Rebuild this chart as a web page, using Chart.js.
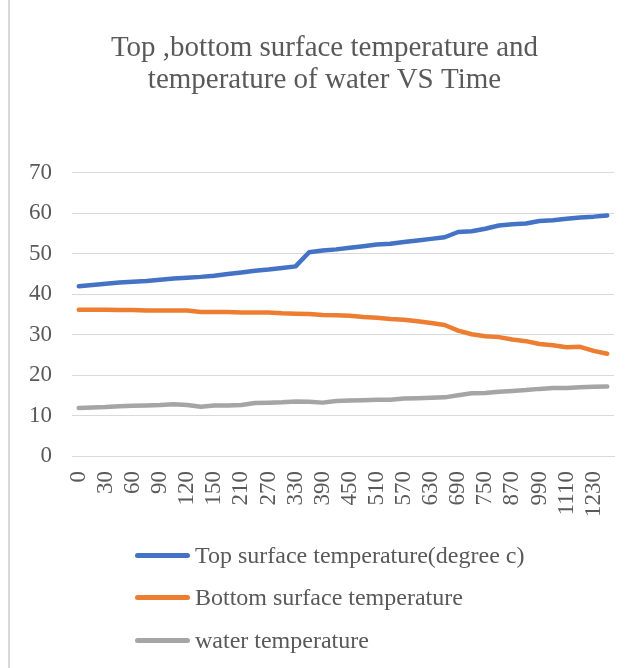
<!DOCTYPE html>
<html>
<head>
<meta charset="utf-8">
<script src="https://cdn.jsdelivr.net/npm/chart.js@4.4.1/dist/chart.umd.min.js"></script>
<style>
    html, body { margin: 0; padding: 0; background: #fff; }
    #wrap { position: relative; width: 631px; height: 668px; }
    #frame { position: absolute; left: 8px; top: 0; width: 2px; height: 668px; background: #d9d9d9; }
    #legend { position: absolute; left: 135px; top: 534px; font-family: "Liberation Serif", "Times New Roman", serif; font-size: 24px; color: #595959; }
    #legend .item { height: 42.5px; display: flex; align-items: center; }
    #legend .swatch { width: 55px; height: 5px; border-radius: 3px; margin-right: 5px; }
</style>
</head>
<body>
<div id="wrap">
    <canvas id="tempChart" width="631" height="668"></canvas>
    <div id="frame"></div>
    <div id="legend"></div>
</div>
<script>
// time in minutes
const times = [0, 15, 30, 45, 60, 75, 90, 105, 120, 135, 150,
    180, 210, 240, 270, 300, 330, 360, 390, 420, 450, 480, 510, 540, 570, 600, 630, 660, 690, 720, 750,
    810, 870, 930, 990, 1050, 1110, 1170, 1230, 1290];

const topSurface = [42.0, 42.3, 42.6, 42.9, 43.1, 43.3, 43.6, 43.9, 44.1, 44.3, 44.6,
    45.0, 45.4, 45.8, 46.1, 46.5, 46.9, 50.4, 50.8, 51.1, 51.5, 51.9, 52.3, 52.5, 52.9, 53.3, 53.7, 54.1, 55.4, 55.6, 56.2,
    57.0, 57.3, 57.5, 58.1, 58.3, 58.7, 59.0, 59.2, 59.5];

const bottomSurface = [36.2, 36.2, 36.2, 36.1, 36.1, 36.0, 36.0, 36.0, 36.0, 35.6, 35.6,
    35.6, 35.5, 35.5, 35.5, 35.3, 35.2, 35.1, 34.9, 34.8, 34.7, 34.4, 34.2, 33.9, 33.7, 33.3, 32.9, 32.4, 31.0, 30.1, 29.6,
    29.4, 28.8, 28.4, 27.7, 27.4, 26.9, 27.0, 26.0, 25.3];

const water = [11.9, 12.0, 12.1, 12.3, 12.4, 12.5, 12.6, 12.8, 12.6, 12.2, 12.5,
    12.5, 12.6, 13.1, 13.2, 13.3, 13.5, 13.4, 13.2, 13.6, 13.7, 13.8, 13.9, 13.9, 14.2, 14.3, 14.4, 14.5, 15.0, 15.5, 15.6,
    15.9, 16.1, 16.3, 16.6, 16.8, 16.8, 17.0, 17.1, 17.2];

const seriesNames = ['Top surface temperature(degree c)', 'Bottom surface temperature', 'water temperature'];
const seriesColors = ['#4472C4', '#ED7D31', '#A5A5A5'];
const titleLines = ['Top ,bottom surface temperature and', 'temperature of water VS Time'];

const serif = '"Liberation Serif", "Times New Roman", serif';
const textColor = '#595959';
const gridColor = '#d9d9d9';

const datasets = [topSurface, bottomSurface, water].map(function (values, i) {
    return {
        label: seriesNames[i],
        data: values,
        borderColor: seriesColors[i],
        backgroundColor: seriesColors[i],
        borderWidth: 4.5,
        borderCapStyle: 'round',
        borderJoinStyle: 'round',
        pointRadius: 0,
        tension: 0,
        fill: false
    };
});

// centre the title over the whole frame rather than the padded area
const titleShift = {
    id: 'titleShift',
    afterLayout: function (chart) {
        if (chart.titleBlock) chart.titleBlock.left += 26;
    }
};

const ctx = document.getElementById('tempChart').getContext('2d');
const tempChart = new Chart(ctx, {
    type: 'line',
    data: { labels: times.map(String), datasets: datasets },
    plugins: [titleShift],
    options: {
        responsive: false,
        animation: false,
        layout: { padding: { top: 22, left: 9, right: 17, bottom: 136 } },
        plugins: {
            legend: { display: false },
            tooltip: { enabled: false },
            title: {
                display: true,
                text: titleLines,
                color: textColor,
                font: { family: serif, size: 29, weight: 'normal', lineHeight: 1.12 },
                padding: { top: 10, bottom: 76 }
            }
        },
        scales: {
            x: {
                offset: true,
                grid: { display: false, drawTicks: false },
                border: { display: true, color: gridColor, width: 1 },
                ticks: {
                    autoSkip: false,
                    minRotation: 90,
                    maxRotation: 90,
                    padding: 15,
                    color: textColor,
                    font: { family: serif, size: 23 },
                    // every second category gets a label
                    callback: function (value, index) {
                        return index % 2 === 0 ? times[index] : '';
                    }
                },
                // the rotated labels sit inside the category bands, no side overhang needed
                afterFit: function (scale) {
                    scale.paddingLeft = 0;
                    scale.paddingRight = 0;
                }
            },
            y: {
                min: 0,
                max: 70,
                grid: { color: gridColor, lineWidth: 1, drawTicks: false },
                border: { display: false },
                ticks: {
                    stepSize: 10,
                    padding: 20,
                    color: textColor,
                    font: { family: serif, size: 23 }
                }
            }
        }
    }
});

// legend stacked vertically under the plot
const legendBox = document.getElementById('legend');
seriesNames.forEach(function (name, i) {
    const item = document.createElement('div');
    item.className = 'item';
    const swatch = document.createElement('span');
    swatch.className = 'swatch';
    swatch.style.background = seriesColors[i];
    const label = document.createElement('span');
    label.textContent = name;
    item.appendChild(swatch);
    item.appendChild(label);
    legendBox.appendChild(item);
});
</script>
</body>
</html>
